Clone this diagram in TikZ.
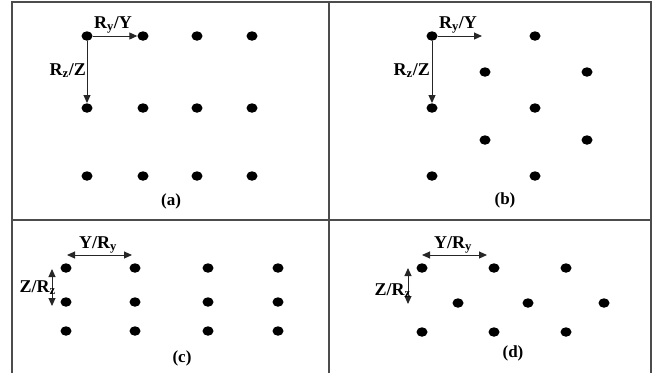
\documentclass[tikz,border=0pt]{standalone}
\usepackage{fontspec}
\setmainfont{Liberation Serif}
\usetikzlibrary{arrows.meta,shapes.geometric}

\begin{document}
\begin{tikzpicture}[
        x=1pt, y=-1pt,
        frame/.style={draw=black!70, line width=1.4pt},
        dot/.style={ellipse, fill=black, minimum width=11pt, minimum height=9.5pt, inner sep=0pt},
        axis/.style={draw=black!85, line width=1pt, -{Triangle[length=8pt,width=7pt]}},
        span/.style={draw=black!85, line width=1pt, {Triangle[length=8pt,width=7pt]}-{Triangle[length=8pt,width=7pt]}},
        lbl/.style={font=\fontsize{18}{21}\selectfont\bfseries, inner sep=0pt},
        panelcap/.style={anchor=base, font=\fontsize{17}{20}\selectfont\bfseries, inner sep=0pt},
    ]
    \useasboundingbox (0,0) rectangle (654,373);

    % ===== Frame =====
    \draw[frame] (12,373) -- (12,2) -- (651,2) -- (651,373);
    \draw[frame] (329,2) -- (329,373);
    \draw[frame] (12,220) -- (651,220);

    % ===== (a) square grid =====
    \def\aA{87} \def\aB{143} \def\aC{197} \def\aD{252}
    \node[dot] (a11) at (\aA, 36) {}; \node[dot] (a12) at (\aB, 36) {}; \node[dot] (a13) at (\aC, 36) {}; \node[dot] (a14) at (\aD, 36) {};
    \node[dot] (a21) at (\aA, 108) {}; \node[dot] (a22) at (\aB, 108) {}; \node[dot] (a23) at (\aC, 108) {}; \node[dot] (a24) at (\aD, 108) {};
    \node[dot] (a31) at (\aA, 176) {}; \node[dot] (a32) at (\aB, 176) {}; \node[dot] (a33) at (\aC, 176) {}; \node[dot] (a34) at (\aD, 176) {};
    \draw[axis] (a11) -- (a12);
    \draw[axis] (a11) -- (a21);
    \node[lbl, anchor=base] (aRy) at (113, 28) {R\textsubscript{y}/Y};
    \node[lbl, anchor=base east] (aRz) at (86, 75) {R\textsubscript{z}/Z};
    \node[panelcap] (acap) at (171, 205) {(a)};

    % ===== (b) staggered grid =====
    \def\bA{432} \def\bB{485} \def\bC{535} \def\bD{587}
    \node[dot] (b11) at (\bA, 36) {}; \node[dot] (b12) at (\bC, 36) {};
    \node[dot] (b21) at (\bB, 72) {}; \node[dot] (b22) at (\bD, 72) {};
    \node[dot] (b31) at (\bA, 108) {}; \node[dot] (b32) at (\bC, 108) {};
    \node[dot] (b41) at (\bB, 140) {}; \node[dot] (b42) at (\bD, 140) {};
    \node[dot] (b51) at (\bA, 176) {}; \node[dot] (b52) at (\bC, 176) {};
    \coordinate (bY) at (482, 36);
    \draw[axis] (b11) -- (bY);
    \draw[axis] (b11) -- (b31);
    \node[lbl, anchor=base] (bRy) at (458, 28) {R\textsubscript{y}/Y};
    \node[lbl, anchor=base east] (bRz) at (430, 75) {R\textsubscript{z}/Z};
    \node[panelcap] (bcap) at (505, 204) {(b)};

    % ===== (c) square grid, spacing =====
    \def\cA{66} \def\cB{135} \def\cC{208} \def\cD{278}
    \node[dot] (c11) at (\cA, 268) {}; \node[dot] (c12) at (\cB, 268) {}; \node[dot] (c13) at (\cC, 268) {}; \node[dot] (c14) at (\cD, 268) {};
    \node[dot] (c21) at (\cA, 302) {}; \node[dot] (c22) at (\cB, 302) {}; \node[dot] (c23) at (\cC, 302) {}; \node[dot] (c24) at (\cD, 302) {};
    \node[dot] (c31) at (\cA, 331) {}; \node[dot] (c32) at (\cB, 331) {}; \node[dot] (c33) at (\cC, 331) {}; \node[dot] (c34) at (\cD, 331) {};
    \coordinate (cYl) at (67, 255); \coordinate (cYr) at (132, 255);
    \coordinate (cZt) at (52, 269); \coordinate (cZb) at (52, 306);
    \draw[span] (cYl) -- (cYr);
    \draw[span] (cZt) -- (cZb);
    \node[lbl, anchor=base] (cYR) at (98, 248) {Y/R\textsubscript{y}};
    \node[lbl, anchor=base east] (cZR) at (56, 292) {Z/R\textsubscript{z}};
    \node[panelcap] (ccap) at (182, 362) {(c)};

    % ===== (d) staggered grid, spacing =====
    \def\dA{422} \def\dB{458} \def\dC{494} \def\dD{528} \def\dE{566} \def\dF{604}
    \node[dot] (d11) at (\dA, 268) {}; \node[dot] (d12) at (\dC, 268) {}; \node[dot] (d13) at (\dE, 268) {};
    \node[dot] (d21) at (\dB, 303) {}; \node[dot] (d22) at (\dD, 303) {}; \node[dot] (d23) at (\dF, 303) {};
    \node[dot] (d31) at (\dA, 332) {}; \node[dot] (d32) at (\dC, 332) {}; \node[dot] (d33) at (\dE, 332) {};
    \coordinate (dYl) at (422, 255); \coordinate (dYr) at (487, 255);
    \coordinate (dZt) at (408, 268); \coordinate (dZb) at (408, 304);
    \draw[span] (dYl) -- (dYr);
    \draw[span] (dZt) -- (dZb);
    \node[lbl, anchor=base] (dYR) at (453, 248) {Y/R\textsubscript{y}};
    \node[lbl, anchor=base east] (dZR) at (411, 295) {Z/R\textsubscript{z}};
    \node[panelcap] (dcap) at (513, 357) {(d)};

    \end{tikzpicture}
\end{document}
